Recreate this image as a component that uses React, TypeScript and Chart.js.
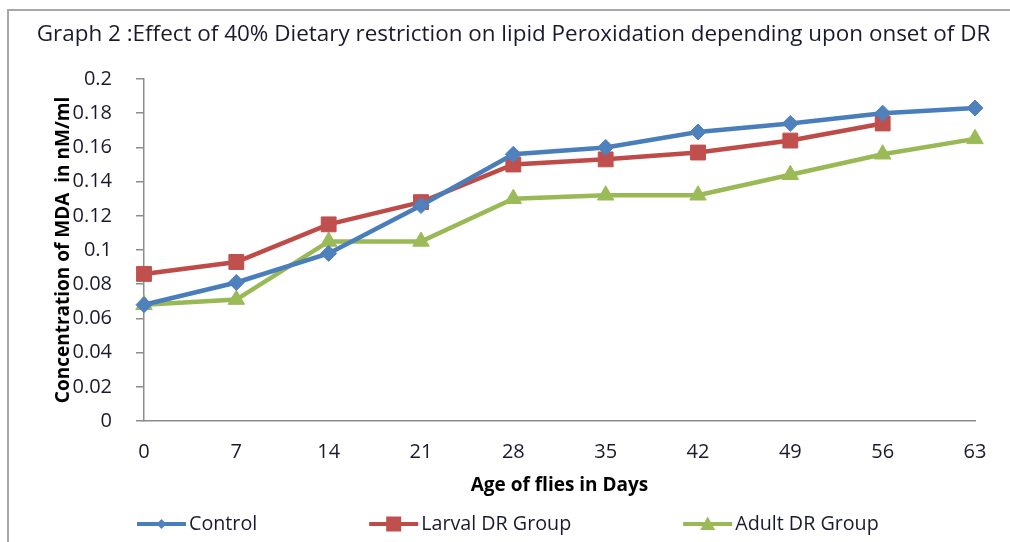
import React, { useEffect, useRef } from "react";
import { Chart, registerables } from "chart.js";

Chart.register(...registerables);

const titleText =
  "Graph 2 :Effect of 40% Dietary restriction on lipid Peroxidation depending upon onset of DR";
const xTitle = "Age of flies in Days";
const yTitle = "Concentration of MDA  in nM/ml";

const days = ["0", "7", "14", "21", "28", "35", "42", "49", "56", "63"];
const controlValues = [0.068, 0.081, 0.098, 0.126, 0.156, 0.16, 0.169, 0.174, 0.18, 0.183];
const larvalValues = [0.086, 0.093, 0.115, 0.128, 0.15, 0.153, 0.157, 0.164, 0.174, null];
const adultValues = [0.068, 0.071, 0.105, 0.105, 0.13, 0.132, 0.132, 0.144, 0.156, 0.165];
const yTickLabels = ["0", "0.02", "0.04", "0.06", "0.08", "0.1", "0.12", "0.14", "0.16", "0.18", "0.2"];

const seriesNames = ["Control", "Larval DR Group", "Adult DR Group"];
const lineColors = ["#4A7EBB", "#BE4B48", "#98B954"];
const markerColors = ["#4F81BD", "#C0504D", "#9BBB59"];
const markerStyles = ["rectRot", "rect", "triangle"];

const FONT = "'Open Sans', 'DejaVu Sans', sans-serif";
const TEXT = "#1a1a2e";

function drawMarker(ctx: CanvasRenderingContext2D, style: string, x: number, y: number, size: number, color: string) {
  ctx.save();
  ctx.fillStyle = color;
  ctx.beginPath();
  if (style === "rectRot") {
    ctx.moveTo(x, y - size);
    ctx.lineTo(x + size, y);
    ctx.lineTo(x, y + size);
    ctx.lineTo(x - size, y);
  } else if (style === "rect") {
    ctx.rect(x - size, y - size, size * 2, size * 2);
  } else {
    ctx.moveTo(x, y - size);
    ctx.lineTo(x + size, y + size * 0.8);
    ctx.lineTo(x - size, y + size * 0.8);
  }
  ctx.closePath();
  ctx.fill();
  ctx.restore();
}

const titlePlugin = {
  id: "excelTitle",
  afterDraw(chart: any) {
    const ctx: CanvasRenderingContext2D = chart.ctx;
    ctx.save();
    ctx.font = `22.45px ${FONT}`;
    ctx.fillStyle = TEXT;
    ctx.textAlign = "center";
    ctx.textBaseline = "middle";
    ctx.fillText(titleText, 504.5, 24);
    ctx.restore();
  },
};

const legendPlugin = {
  id: "excelLegend",
  afterDraw(chart: any) {
    const ctx: CanvasRenderingContext2D = chart.ctx;
    const y = 513;
    let x = chart.chartArea.left - 7;
    const gap = 112;
    const lineLen = 49;
    const sizes = [5, 7.5, 7.5];
    ctx.save();
    ctx.font = `19.7px ${FONT}`;
    ctx.textBaseline = "middle";
    ctx.textAlign = "left";
    seriesNames.forEach((name, i) => {
      ctx.strokeStyle = lineColors[i];
      ctx.lineWidth = 4;
      ctx.beginPath();
      ctx.moveTo(x, y);
      ctx.lineTo(x + lineLen, y);
      ctx.stroke();
      drawMarker(ctx, markerStyles[i], x + lineLen / 2, y, sizes[i], markerColors[i]);
      ctx.fillStyle = TEXT;
      ctx.fillText(name, x + lineLen + 3, y);
      const w = ctx.measureText(name).width;
      x += lineLen + 3 + w + gap;
    });
    ctx.restore();
  },
};

export default function App() {
  const ref = useRef<HTMLCanvasElement | null>(null);

  useEffect(() => {
    if (!ref.current) return;
    const datasets = [controlValues, larvalValues, adultValues].map((vals, i) => ({
      label: seriesNames[i],
      data: vals,
      borderColor: lineColors[i],
      backgroundColor: markerColors[i],
      borderWidth: 4.5,
      pointStyle: markerStyles[i],
      pointRadius: [8, 10.5, 9.5][i],
      pointBackgroundColor: markerColors[i],
      pointBorderColor: markerColors[i],
      pointBorderWidth: 1,
      tension: 0,
      spanGaps: false,
    }));
    const chart = new Chart(ref.current, {
      type: "line",
      data: { labels: days, datasets },
      plugins: [titlePlugin, legendPlugin],
      options: {
        animation: false,
        responsive: false,
        maintainAspectRatio: false,
        layout: { padding: { left: 43, right: 44, top: 68, bottom: 44.6 } },
        plugins: {
          legend: { display: false },
          tooltip: { enabled: false },
          title: { display: false },
        },
        scales: {
          x: {
            type: "category",
            offset: false,
            grid: { display: false },
            border: { display: true, color: "#8c8c8c", width: 1.5 },
            ticks: {
              color: TEXT,
              font: { family: FONT, size: 20 },
              padding: 11,
              maxRotation: 0,
              autoSkip: false,
            },
            title: {
              display: true,
              text: xTitle,
              color: "#000",
              font: { family: FONT, size: 19, weight: "bold" },
              padding: 0,
            },
            afterFit: (s: any) => {
              s.height = 76.4;
            },
          },
          y: {
            min: 0,
            max: 0.2,
            grid: {
              display: true,
              drawOnChartArea: false,
              drawTicks: true,
              tickLength: 8,
              color: "#8c8c8c",
              lineWidth: 1.5,
            },
            border: { display: true, color: "#8c8c8c", width: 1.5 },
            ticks: {
              stepSize: 0.02,
              color: TEXT,
              font: { family: FONT, size: 20 },
              padding: 24,
              callback: (_v: any, i: number) => yTickLabels[i],
            },
            title: {
              display: true,
              text: yTitle,
              color: "#000",
              font: { family: FONT, size: 19, weight: "bold" },
              padding: 0,
            },
            afterFit: (s: any) => {
              s.width = 135 - 43;
            },
          },
        },
      },
    });
    return () => chart.destroy();
  }, []);

  return (
    <div style={{ position: "fixed", left: 0, top: 0, width: 1010, height: 542, overflow: "hidden", background: "#fff" }}>
      <div
        style={{
          position: "absolute",
          left: 7,
          top: 9,
          width: 1100,
          height: 600,
          border: "2px solid #a8a8a8",
          boxSizing: "border-box",
        }}
      />
      <canvas
        ref={ref}
        width={1010}
        height={531}
        style={{ position: "absolute", left: 9, top: 11, width: 1010, height: 531 }}
      />
    </div>
  );
}
